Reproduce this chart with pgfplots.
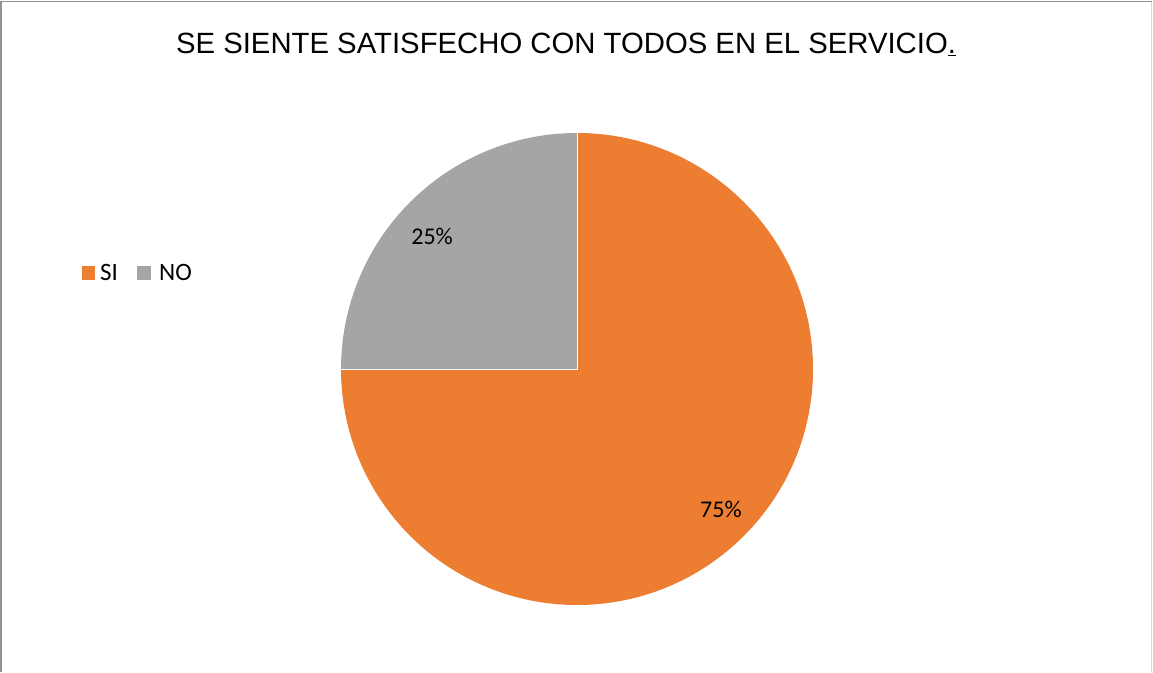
\documentclass[border=0pt]{standalone}
\usepackage{pgfplots}
\usepackage{pgfplotstable}
\pgfplotsset{compat=1.18}
\usepackage{fontspec}
\setmainfont{Liberation Sans}
\newfontfamily\calibri{Carlito}
\definecolor{siorange}{HTML}{ED7D31}
\definecolor{nogray}{HTML}{A5A5A5}
\pgfplotstableread{
label value
SI 75
NO 25
}\piedata
\begin{document}
\begin{tikzpicture}[x=1pt,y=1pt]
\useasboundingbox (0,0) rectangle (1153,672);
\fill[white] (0,0) rectangle (1153,672);
\draw[line width=1.2pt,color=gray!85] (1,0) -- (1,670.5) -- (1152,670.5);
\draw[line width=1.2pt,color=gray!30] (1151.5,670) -- (1151.5,0);
\pgfplotstablegetelem{0}{value}\of\piedata \let\vSI\pgfplotsretval
\pgfplotstablegetelem{1}{value}\of\piedata \let\vNO\pgfplotsretval
\begin{axis}[
  at={(577pt,303pt)}, anchor=center,
  scale only axis, width=472pt, height=472pt,
  xmin=-1, xmax=1, ymin=-1, ymax=1,
  hide axis, clip=false,
]
\pgfmathsetmacro{\aSI}{90-3.6*\vSI}
\pgfmathsetmacro{\aNO}{90+3.6*\vNO}
\fill[siorange] (axis cs:0,0) -- (axis cs:0,1) arc[start angle=90, end angle=\aSI, radius=236pt] -- cycle;
\fill[nogray] (axis cs:0,0) -- (axis cs:0,1) arc[start angle=90, end angle=\aNO, radius=236pt] -- cycle;
\draw[white, line width=0.8pt] (axis cs:0,1) -- (axis cs:0,0) -- (axis cs:-1,0);
\node[font=\calibri\fontsize{24}{28}\selectfont] at (axis cs:-0.614,0.56) {\vNO\%};
\node[font=\calibri\fontsize{24}{28}\selectfont] at (axis cs:0.610,-0.597) {\vSI\%};
\end{axis}
\node[anchor=base, font=\fontsize{29.3}{34}\selectfont] at (566,618) {SE SIENTE SATISFECHO CON TODOS EN EL SERVICIO\underline{.}};
\fill[siorange] (81.5,391.5) rectangle (95,405.5);
\node[anchor=base west, inner sep=0pt, font=\calibri\fontsize{25}{29}\selectfont] at (100,391) {SI};
\fill[nogray] (136.5,391.5) rectangle (150.5,405.5);
\node[anchor=base west, inner sep=0pt, font=\calibri\fontsize{25}{29}\selectfont] at (159,391) {NO};
\end{tikzpicture}
\end{document}
